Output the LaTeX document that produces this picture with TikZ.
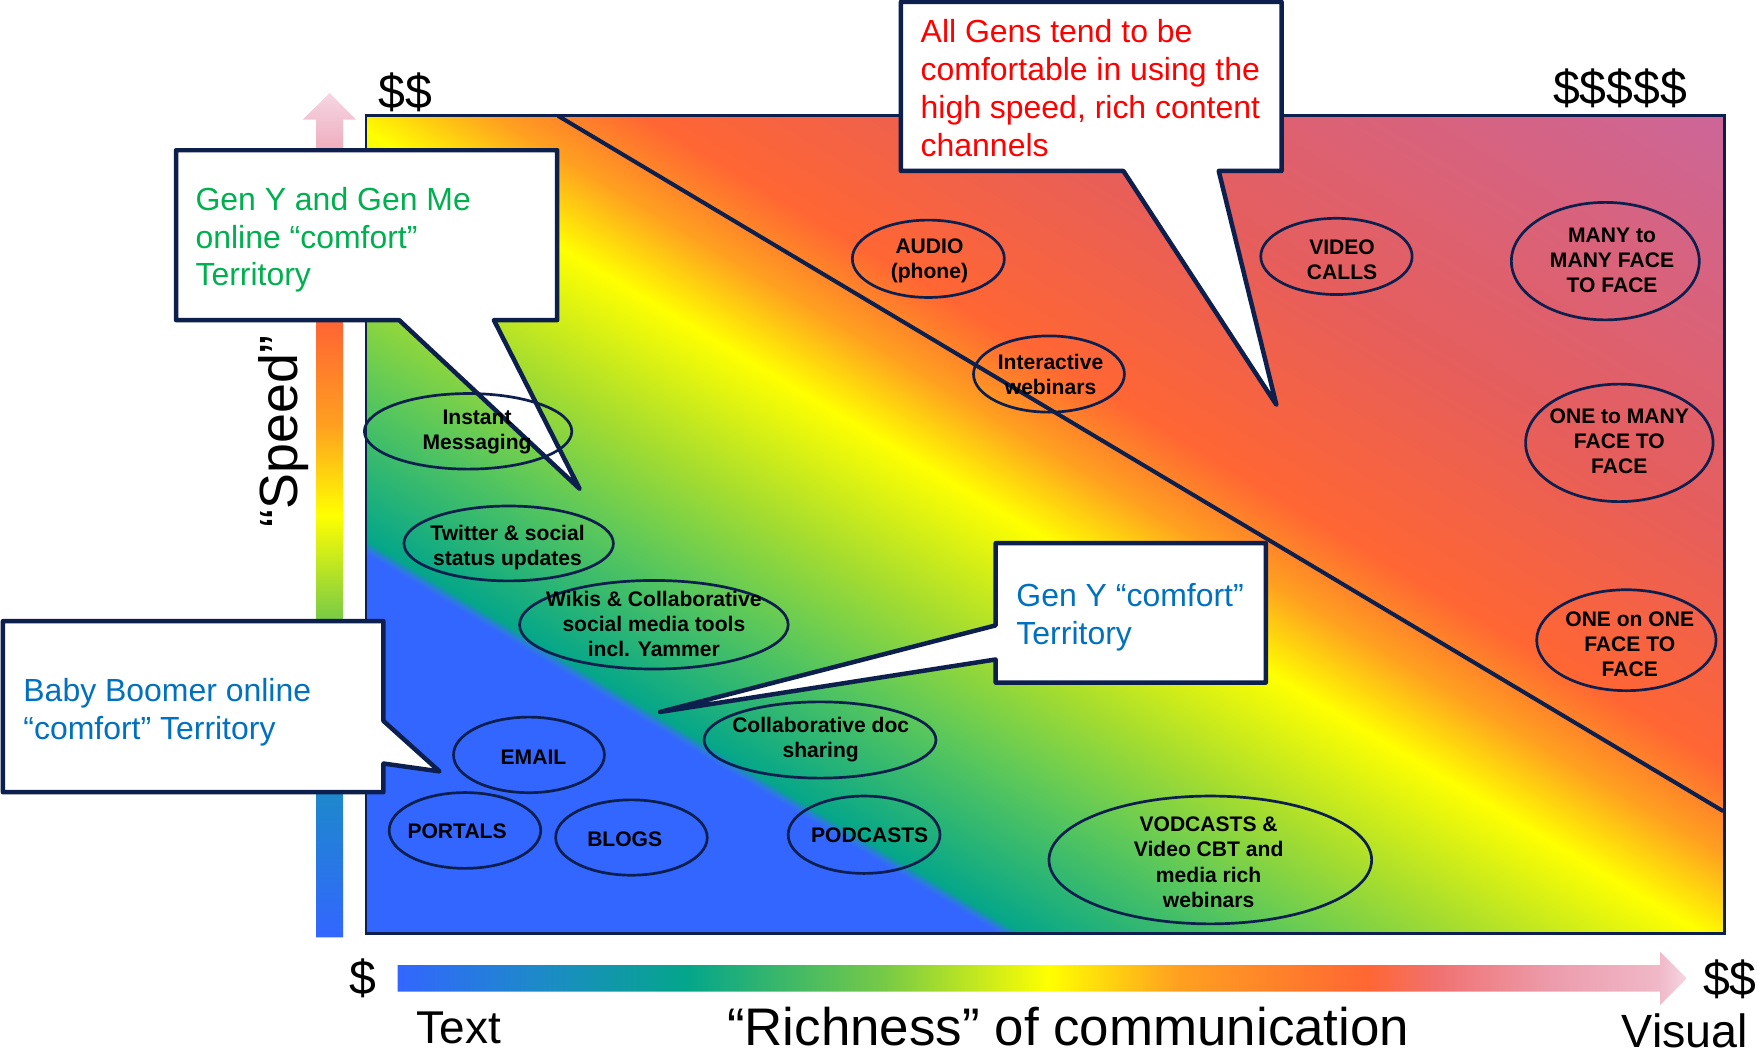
\documentclass[tikz,border=0pt]{standalone}
\usepackage{fontspec}
\setmainfont{Liberation Sans}
\usetikzlibrary{shapes.geometric,calc}

% outlines and callout texts
\definecolor{navy}{HTML}{0C1F4D}
\definecolor{genGreen}{HTML}{00B050}
\definecolor{genRed}{HTML}{FF0000}
\definecolor{genBlue}{HTML}{0070C0}

% spectrum colours
\definecolor{cBlue}{HTML}{3366FF}
\definecolor{cBlueT}{HTML}{2C7AE0}
\definecolor{cSteel}{HTML}{1E88CC}
\definecolor{cTeal}{HTML}{04A68A}
\definecolor{cGreen}{HTML}{5CC85A}
\definecolor{cGreenB}{HTML}{78CA46}
\definecolor{cLime}{HTML}{A4DC30}
\definecolor{cYellow}{HTML}{FFFF00}
\definecolor{cAmber}{HTML}{FFA020}
\definecolor{cOrange}{HTML}{FF6633}
\definecolor{cCoral}{HTML}{E65E5C}
\definecolor{cMauve}{HTML}{CC6699}
\definecolor{cSalmon}{HTML}{F07272}
\definecolor{cRose}{HTML}{EC9CAC}
\definecolor{cPink}{HTML}{F0B8C8}
\definecolor{cPale}{HTML}{F5D6E2}

% diagonal field: blue wedge, then teal -> green -> yellow -> orange -> mauve
\pgfdeclarehorizontalshading{field}{100bp}{color(0bp)=(cBlue); color(37.15bp)=(cBlue); color(37.32bp)=(cBlueT); color(37.55bp)=(cTeal); color(42.03bp)=(cGreen); color(45.33bp)=(cLime); color(49.6bp)=(cYellow); color(52.26bp)=(cAmber); color(54.9bp)=(cOrange); color(61.83bp)=(cCoral); color(74.03bp)=(cMauve); color(100bp)=(cMauve)}
% vertical "speed" arrow
\pgfdeclareverticalshading{speedbar}{100bp}{color(0bp)=(cBlue); color(25bp)=(cBlue); color(33.4bp)=(cSteel); color(38bp)=(cTeal); color(43.8bp)=(cGreenB); color(50bp)=(cYellow); color(55.3bp)=(cAmber); color(61.3bp)=(cOrange); color(67.2bp)=(cSalmon); color(72.5bp)=(cPink); color(75bp)=(cPale); color(100bp)=(cPale)}
% horizontal "richness" arrow
\pgfdeclarehorizontalshading{richbar}{100bp}{color(0bp)=(cBlue); color(25bp)=(cBlue); color(30.13bp)=(cSteel); color(36.28bp)=(cTeal); color(43.93bp)=(cGreenB); color(50.24bp)=(cYellow); color(55.24bp)=(cAmber); color(62.63bp)=(cOrange); color(65.4bp)=(cSalmon); color(69.8bp)=(cRose); color(73.9bp)=(cPink); color(75bp)=(cPale); color(100bp)=(cPale)}

\tikzset{
  callout/.style={draw=navy, fill=white, line width=2pt, line join=round},
  calltext/.style={anchor=north west, inner sep=0pt, align=left, font=\fontsize{14.25}{16.9}\selectfont},
  bubble/.style={ellipse, draw=navy, line width=1.2pt, inner sep=0pt},
  btext/.style={inner sep=0pt, align=center, text=black, font=\bfseries\fontsize{9.4}{11.2}\selectfont},
  dollar/.style={inner sep=0pt, font=\fontsize{21.5}{24}\selectfont},
}

\begin{document}
\begin{tikzpicture}[x=0.5pt,y=-0.5pt]
\useasboundingbox (0,0) rectangle (1568,939);

% field corners, centre and the dividing line
\coordinate (fNW) at (326.6,103.2);
\coordinate (fSE) at (1537.9,832.5);
\coordinate (fC) at (932.25,467.85);
\coordinate (divA) at (497.7,103.3);
\coordinate (divB) at (1537,723.5);

% shaded field
\begin{scope}
  \clip (fNW) rectangle (fSE);
  \begin{scope}[transform canvas={rotate around={59.04:(fC)}}]
    \shade[shading=field] (282.25,-332.15) rectangle (1582.25,1267.85);
  \end{scope}
\end{scope}
\draw[navy, line width=1.8pt] (divA) -- (divB);
\draw[navy, line width=1.1pt] (fNW) rectangle (fSE);

% axes arrows
\shade[shading=speedbar] (282,836) -- (282,106.7) -- (270,106.7) -- (294,83) -- (317.5,106.7) -- (306,106.7) -- (306,836) -- cycle;
\shade[shading=richbar] (354.7,860.7) -- (1480.6,860.7) -- (1480.6,848.8) -- (1504.4,872.6) -- (1480.6,896.4) -- (1480.6,884.5) -- (354.7,884.5) -- cycle;

% callouts
\draw[callout] (157,134) -- (497,134) -- (497,285.5) -- (440.5,285.5) -- (517,436) -- (356,285.5) -- (157,285.5) -- cycle;
\draw[callout] (803.6,1.6) -- (1143,1.6) -- (1143,152.5) -- (1087,152.5) -- (1138.4,361) -- (1002,152.5) -- (803.6,152.5) -- cycle;
\draw[callout] (888,484.5) -- (1129,484.5) -- (1129,608.8) -- (888,608.8) -- (888,588.2) -- (588.7,635) -- (888,557.8) -- cycle;
\draw[callout] (2.6,554) -- (342,554) -- (342,643) -- (392,688) -- (342,681) -- (342,706.6) -- (2.6,706.6) -- cycle;

\node[calltext, text=genGreen] (tGenMe) at (174,166.4) {Gen Y and Gen Me\\online “comfort”\\Territory};
\node[calltext, text=genRed] (tAll) at (820.8,17.2) {All Gens tend to be\\comfortable in using the\\high speed, rich content\\channels};
\node[calltext, text=genBlue] (tGenY) at (906.2,520.3) {Gen Y “comfort”\\Territory};
\node[calltext, text=genBlue] (tBoomer) at (20.5,604.8) {Baby Boomer online\\“comfort” Territory};

% channels
\node[bubble, minimum width=185pt/2, minimum height=67.4pt/2] (im) at (417.5,384.7) {};
\node[bubble, minimum width=186.8pt/2, minimum height=66.8pt/2] (tw) at (453.7,484.7) {};
\node[bubble, minimum width=239.6pt/2, minimum height=79pt/2] (wk) at (583.2,557.2) {};
\node[bubble, minimum width=134.6pt/2, minimum height=67.4pt/2] (em) at (471.8,673.3) {};
\node[bubble, minimum width=135.2pt/2, minimum height=67.6pt/2] (po) at (414.7,740.7) {};
\node[bubble, minimum width=135.2pt/2, minimum height=67.2pt/2] (bl) at (563.2,747) {};
\node[bubble, minimum width=206.8pt/2, minimum height=68pt/2] (cd) at (731.4,660) {};
\node[bubble, minimum width=135.4pt/2, minimum height=69pt/2] (pc) at (770.7,744.5) {};
\node[bubble, minimum width=287.8pt/2, minimum height=114pt/2] (vc) at (1079.5,767) {};
\node[bubble, minimum width=135.6pt/2, minimum height=69pt/2] (au) at (828,230.8) {};
\node[bubble, minimum width=134.6pt/2, minimum height=68pt/2] (iw) at (935.6,333.6) {};
\node[bubble, minimum width=135pt/2, minimum height=68pt/2] (vi) at (1192,228.7) {};
\node[bubble, minimum width=167.6pt/2, minimum height=104.8pt/2] (mm) at (1431.8,232.9) {};
\node[bubble, minimum width=167.2pt/2, minimum height=104.8pt/2] (om) at (1444.3,395) {};
\node[bubble, minimum width=160pt/2, minimum height=90pt/2] (oo) at (1450.6,571) {};

\node[btext] (imT) at ($(im)+(8,0.5)$) {Instant\\Messaging};
\node[btext] (twT) at ($(tw)+(-1,3.5)$) {Twitter \& social\\status updates};
\node[btext] (wkT) at ($(wk)+(0,-0.5)$) {Wikis \& Collaborative\\social media tools\\incl. Yammer};
\node[btext] (emT) at ($(em)+(4,2)$) {EMAIL};
\node[btext] (poT) at ($(po)+(-7,0.8)$) {PORTALS};
\node[btext] (blT) at ($(bl)+(-6,1.5)$) {BLOGS};
\node[btext] (cdT) at ($(cd)+(0.6,0)$) {Collaborative doc\\sharing};
\node[btext] (pcT) at ($(pc)+(5,0.8)$) {PODCASTS};
\node[btext] (vcT) at ($(vc)+(-1.5,2)$) {VODCASTS \&\\Video CBT and\\media rich\\webinars};
\node[btext] (auT) at ($(au)+(1,2)$) {AUDIO\\(phone)};
\node[btext] (iwT) at ($(iw)+(1.4,0)$) {Interactive\\webinars};
\node[btext] (viT) at ($(vi)+(5,3)$) {VIDEO\\CALLS};
\node[btext] (mmT) at ($(mm)+(6,-0.5)$) {MANY to\\MANY FACE\\TO FACE};
\node[btext] (omT) at ($(om)+(0,-1.5)$) {ONE to MANY\\FACE TO\\FACE};
\node[btext] (ooT) at ($(oo)+(3,3.8)$) {ONE on ONE\\FACE TO\\FACE};

% axis labels
\node[dollar] (costLowTop) at (361.5,82.4) {\$\$};
\node[dollar] (costHigh) at (1445,79) {\$\$\$\$\$};
\node[dollar] (costLow) at (324,872.5) {\$};
\node[dollar] (costMid) at (1543,873.4) {\$\$};
\node[inner sep=0pt, font=\fontsize{20.5}{24}\selectfont] (lText) at (409.2,917.2) {Text};
\node[inner sep=0pt, font=\fontsize{23.6}{26}\selectfont] (lRich) at (952.8,916) {“Richness” of communication};
\node[inner sep=0pt, font=\fontsize{20.8}{24}\selectfont] (lVisual) at (1502.9,919.8) {Visual};
\node[inner sep=0pt, rotate=90, font=\fontsize{24}{28}\selectfont] (lSpeed) at (253,385) {“Speed”};
\end{tikzpicture}
\end{document}
